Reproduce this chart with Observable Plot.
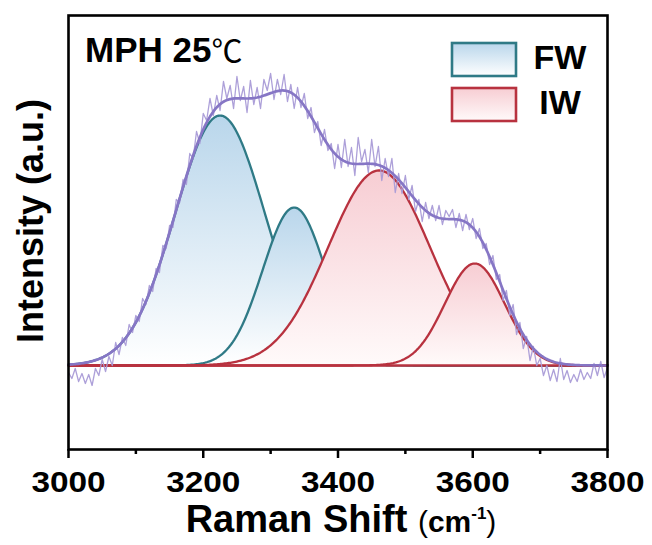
<!DOCTYPE html>
<html>
<head>
<meta charset="utf-8">
<script src="https://cdn.jsdelivr.net/npm/d3@7"></script>
<script src="https://cdn.jsdelivr.net/npm/@observablehq/plot@0.6"></script>
<style>
  body { margin: 0; background: #fff; }
  #fig { width: 652px; height: 545px; }
</style>
</head>
<body>
<div id="fig"></div>
<script>
// Raman shift grid of the measured spectrum (cm-1)
const shiftStart = 3000, shiftEnd = 3800, shiftStep = 5;
const shift = d3.range(shiftStart, shiftEnd + 1, shiftStep);

// Measured intensity (a.u.), one value per grid point
const intensity = [
  -7, -13, -3, -16, -8, -18, -9, -20, -3, -10, 6, -6, 9, 0, 23, 11, 28, 20, 41, 33,
  50, 44, 67, 61, 80, 74, 97, 93, 120, 117, 140, 138, 166, 163, 186, 181, 212, 207, 234, 222,
  252, 245, 267, 250, 270, 255, 284, 267, 280, 257, 289, 265, 279, 253, 285, 261, 278, 257, 286, 275,
  292, 266, 286, 271, 291, 264, 281, 257, 278, 258, 272, 247, 258, 233, 244, 220, 236, 215, 222, 197,
  221, 198, 226, 199, 218, 190, 228, 204, 216, 193, 226, 199, 219, 185, 207, 189, 207, 173, 192, 172,
  190, 166, 180, 154, 166, 144, 163, 147, 160, 145, 160, 141, 155, 149, 156, 138, 152, 135, 151, 136,
  147, 127, 137, 117, 122, 101, 110, 86, 91, 65, 75, 50, 61, 31, 43, 17, 29, 5, 19, 0,
  7, -10, 0, -15, -4, -16, 7, -14, -5, -17, -9, -16, -4, -14, -7, -13, 2, -10, 4, -12,
  -2
];

// Gaussian components of the peak fit
const peakType   = ["FW", "FW", "IW", "IW"];
const peakCenter = [3225, 3335, 3461, 3603];   // cm-1
const peakHeight = [250, 158, 195, 102];       // a.u.
const peakSigma  = [66.7, 46.7, 75.6, 44.4];   // cm-1

// Axis ticks
const majorTicks = [3000, 3200, 3400, 3600, 3800];
const minorTicks = [3100, 3300, 3500, 3700];

// Series labels and colours
const legendLabels = ["FW", "IW"];
const strokeColor = {FW: "#2f7a86", IW: "#b8323f"};
const fillTop = {FW: "#b9d6eb", IW: "#f7cdd3"};
const fillBottom = {FW: "#ffffff", IW: "#fffafa"};

// ---- derived tables ----
const spectrum = shift.map((x, i) => ({x, y: intensity[i]}));
const grid = d3.range(shiftStart, shiftEnd + 0.001, 2);
const gauss = (k, x) => peakHeight[k] * Math.exp(-((x - peakCenter[k]) ** 2) / (2 * peakSigma[k] ** 2));
const components = peakType.map((type, k) => grid.map(x => ({x, y: gauss(k, x)})));
const fit = grid.map(x => ({x, y: peakType.reduce((s, _, k) => s + gauss(k, x), 0)}));

// each component: gradient fill to the baseline, then its outline;
// later components sit on top of the earlier ones
const componentMarks = components.flatMap((data, k) => [
  Plot.areaY(data, {x: "x", y1: 0, y2: "y", fill: `url(#fill${peakType[k]})`}),
  Plot.lineY(data, {x: "x", y: "y", stroke: strokeColor[peakType[k]], strokeWidth: 2.3})
]);

const font = "'Liberation Sans', Arial, Helvetica, sans-serif";

const svg = Plot.plot({
  width: 652,
  height: 545,
  marginLeft: 68,
  marginRight: 45,
  marginTop: 15,
  marginBottom: 96,
  x: {domain: [shiftStart, shiftEnd], label: null},
  y: {domain: [-84, 350], axis: null, label: null},
  style: {fontFamily: font, background: "white", color: "black", overflow: "visible"},
  marks: [
    ...componentMarks,
    Plot.ruleY([0], {stroke: strokeColor.IW, strokeWidth: 2.6}),
    Plot.lineY(spectrum, {x: "x", y: "y", stroke: "#a99bd7", strokeWidth: 1.3, strokeOpacity: 0.95}),
    Plot.lineY(fit, {x: "x", y: "y", stroke: "#8676c5", strokeWidth: 2.7}),
    Plot.axisX({ticks: minorTicks, tickSize: 5, text: null, strokeWidth: 2.5, label: null}),
    Plot.axisX({ticks: majorTicks, tickSize: 9, tickPadding: 13, tickFormat: d => String(d),
                fontSize: 29, fontWeight: "bold", strokeWidth: 2.5, label: null}),
    Plot.frame({stroke: "black", strokeWidth: 2.6})
  ]
});

const root = d3.select(svg);

// vertical gradients for the peak fills and legend swatches
const defs = root.insert("defs", ":first-child");
for (const t of legendLabels) {
  const g = defs.append("linearGradient").attr("id", "fill" + t)
    .attr("x1", 0).attr("y1", 0).attr("x2", 0).attr("y2", 1);
  g.append("stop").attr("offset", "0%").attr("stop-color", fillTop[t]);
  g.append("stop").attr("offset", "100%").attr("stop-color", fillBottom[t]);
}

// slightly wider tick digits
root.selectAll('g[aria-label="x-axis tick label"] text').each(function () {
  const tr = this.getAttribute("transform");
  if (tr) this.setAttribute("transform", tr + " scale(1.15,1)");
});

// sample name
const title = root.append("text").attr("x", 85).attr("y", 62).attr("text-anchor", "start")
  .attr("font-family", font).attr("font-size", 35).attr("font-weight", "bold");
title.append("tspan").text("MPH 25");
title.append("tspan").attr("font-family", "'Noto Sans CJK SC', sans-serif")
  .attr("font-weight", "normal").attr("font-size", 31).text("℃");

// legend
legendLabels.forEach((t, i) => {
  const y0 = 43 + i * 45;
  root.append("rect").attr("x", 452).attr("y", y0).attr("width", 64).attr("height", 33)
    .attr("fill", `url(#fill${t})`).attr("stroke", strokeColor[t]).attr("stroke-width", 2.6);
  root.append("text").attr("x", 560).attr("y", y0 + 26).attr("text-anchor", "middle")
    .attr("font-family", font).attr("font-size", 34).attr("font-weight", "bold").text(t);
});

// x axis title
const xt = root.append("text").attr("x", 341).attr("y", 532).attr("text-anchor", "middle")
  .attr("font-family", font).attr("font-weight", "bold");
xt.append("tspan").attr("font-size", 38).text("Raman Shift ");
xt.append("tspan").attr("font-size", 30).attr("font-weight", "normal").text("(");
xt.append("tspan").attr("font-size", 30).text("cm");
xt.append("tspan").attr("font-size", 17).attr("dy", -13).text("-1");
xt.append("tspan").attr("font-size", 30).attr("font-weight", "normal").attr("dy", 13).text(")");

// y axis title
root.append("text").attr("transform", "translate(43,221) rotate(-90)")
  .attr("text-anchor", "middle").attr("font-family", font)
  .attr("font-size", 36).attr("font-weight", "bold").text("Intensity (a.u.)");

document.getElementById("fig").appendChild(svg);
</script>
</body>
</html>
